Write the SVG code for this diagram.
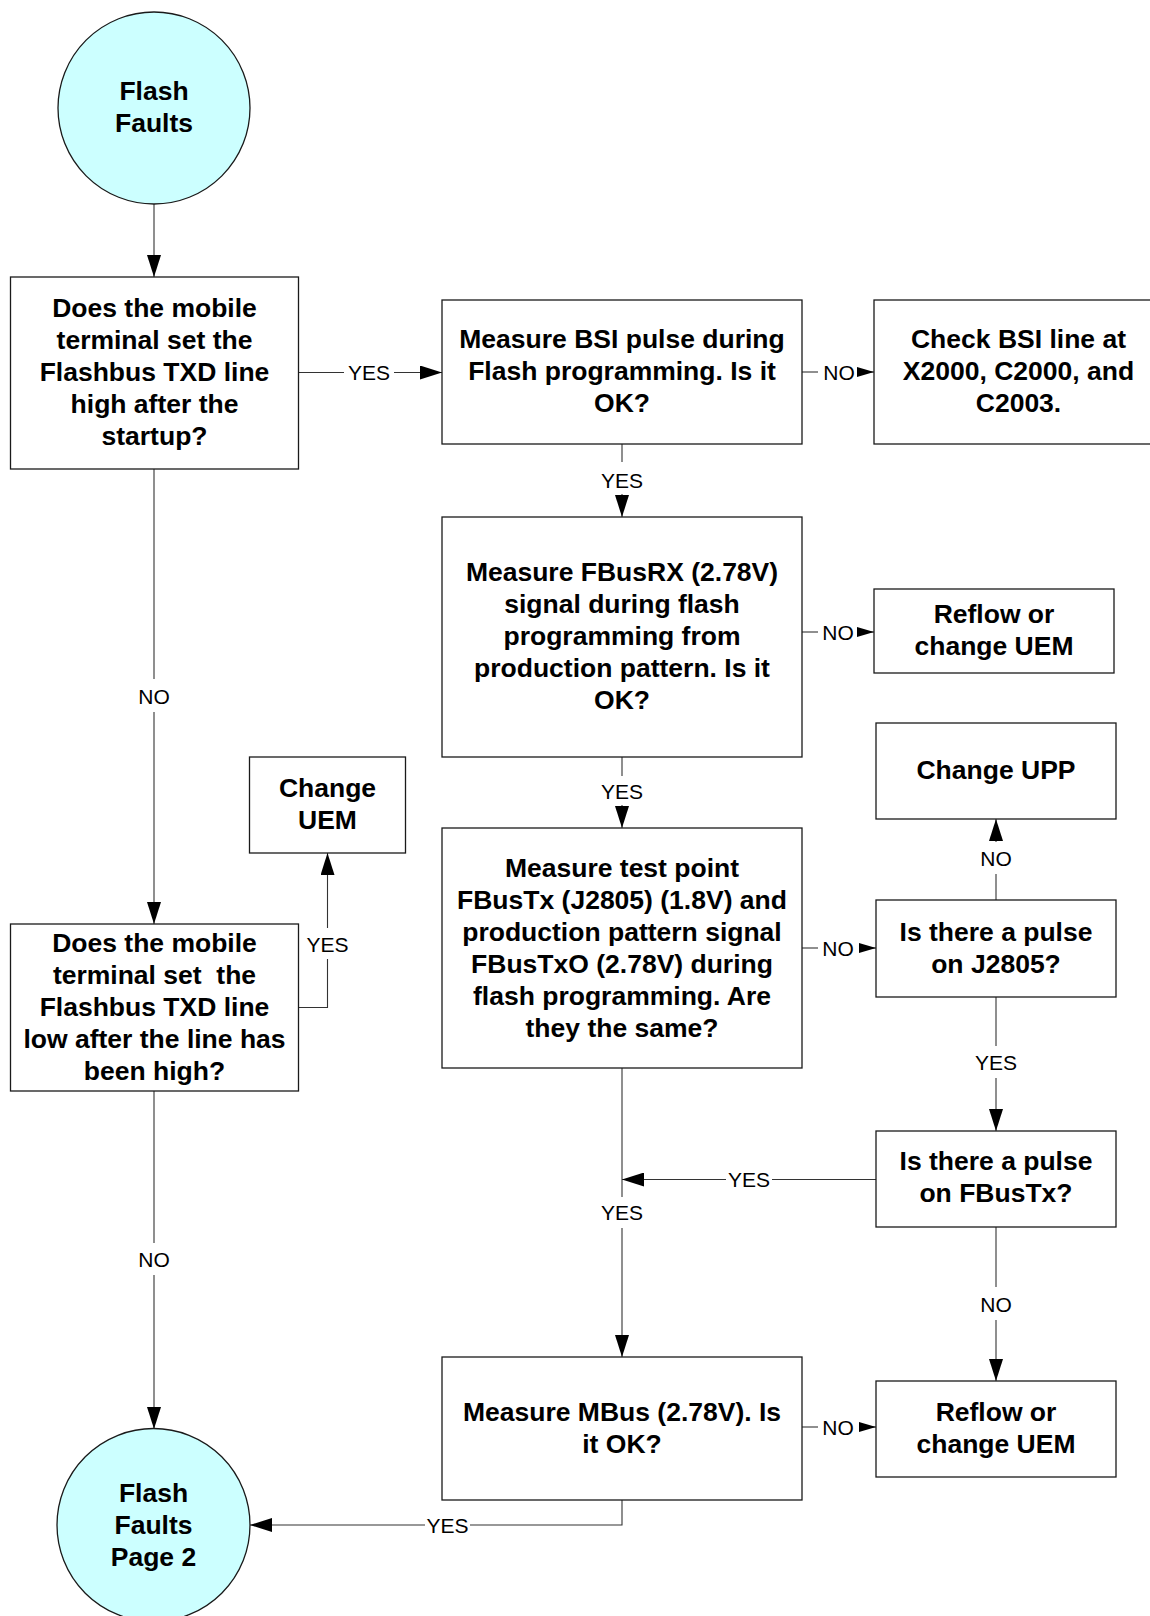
<svg xmlns="http://www.w3.org/2000/svg" width="1150" height="1616" viewBox="0 0 1150 1616">
  <style>
    .box { fill: #ffffff; stroke: #1a1a1a; stroke-width: 1.3; }
    .term { fill: #ccffff; stroke: #1a1a1a; stroke-width: 1.3; }
    .t { font-family: "Liberation Sans", Arial, sans-serif; font-weight: bold; font-size: 26.5px; fill: #000; text-anchor: middle; }
    .lbl { font-family: "Liberation Sans", Arial, sans-serif; font-size: 21px; fill: #000; text-anchor: middle; }
    .ln { fill: none; stroke: #333333; stroke-width: 1.1; }
    .ab { marker-end: url(#big); }
    .as { marker-end: url(#small); }
  </style>
  <defs>
    <marker id="big" viewBox="0 0 22 14" refX="22" refY="7" markerWidth="22" markerHeight="14" markerUnits="userSpaceOnUse" orient="auto">
      <path d="M0,0 L22,7 L0,14 Z" fill="#000"/>
    </marker>
    <marker id="small" viewBox="0 0 17 10" refX="17" refY="5" markerWidth="17" markerHeight="10" markerUnits="userSpaceOnUse" orient="auto">
      <path d="M0,0 L17,5 L0,10 Z" fill="#000"/>
    </marker>
  </defs>

  <rect width="1150" height="1616" fill="#ffffff"/>

  <!-- connectors -->
  <g id="connectors">
    <!-- start -> TXD high question -->
    <path class="ln ab" d="M154,204 V277"/>
    <!-- TXD high: YES -> BSI -->
    <path class="ln" d="M298,372.5 H344"/>
    <path class="ln ab" d="M394,372.5 H442"/>
    <text class="lbl" x="369" y="380">YES</text>
    <!-- BSI: NO -> check BSI line -->
    <path class="ln" d="M802,372 H818"/>
    <path class="ln as" d="M857,372 H874"/>
    <text class="lbl" x="839" y="379.5">NO</text>
    <!-- BSI: YES -> FBusRX -->
    <path class="ln" d="M622,444 V462"/>
    <path class="ln ab" d="M622,494 V517"/>
    <text class="lbl" x="622" y="487.5">YES</text>
    <!-- FBusRX: NO -> reflow UEM -->
    <path class="ln" d="M802,632 H818"/>
    <path class="ln as" d="M857,632 H874"/>
    <text class="lbl" x="838" y="639.5">NO</text>
    <!-- FBusRX: YES -> test point -->
    <path class="ln" d="M622,757 V776"/>
    <path class="ln ab" d="M622,805 V828"/>
    <text class="lbl" x="622" y="798.5">YES</text>
    <!-- test point: NO -> pulse on J2805 -->
    <path class="ln" d="M802,948 H818"/>
    <path class="ln as" d="M859,948 H876"/>
    <text class="lbl" x="838" y="955.5">NO</text>
    <!-- J2805: NO -> change UPP -->
    <path class="ln" d="M996,900 V874"/>
    <path class="ln ab" d="M996,842 V819"/>
    <text class="lbl" x="996" y="865.5">NO</text>
    <!-- J2805: YES -> pulse on FBusTx -->
    <path class="ln" d="M996,997 V1046"/>
    <path class="ln ab" d="M996,1078 V1131"/>
    <text class="lbl" x="996" y="1069.5">YES</text>
    <!-- FBusTx: YES -> join main line -->
    <path class="ln" d="M876,1179.5 H772"/>
    <path class="ln ab" d="M726,1179.5 H622"/>
    <text class="lbl" x="749" y="1187">YES</text>
    <!-- test point: YES -> MBus -->
    <path class="ln" d="M622,1068 V1197"/>
    <path class="ln ab" d="M622,1228 V1357"/>
    <text class="lbl" x="622" y="1220">YES</text>
    <!-- FBusTx: NO -> reflow UEM -->
    <path class="ln" d="M996,1227 V1287"/>
    <path class="ln ab" d="M996,1320 V1381"/>
    <text class="lbl" x="996" y="1311.5">NO</text>
    <!-- MBus: NO -> reflow UEM -->
    <path class="ln" d="M802,1427 H818"/>
    <path class="ln as" d="M859,1427 H876"/>
    <text class="lbl" x="838" y="1434.5">NO</text>
    <!-- MBus: YES -> page 2 -->
    <path class="ln" d="M622,1500 V1525 H470"/>
    <path class="ln ab" d="M425,1525 H250"/>
    <text class="lbl" x="447.5" y="1532.5">YES</text>
    <!-- TXD high: NO -> TXD low question -->
    <path class="ln" d="M154,469 V679"/>
    <path class="ln ab" d="M154,712 V924"/>
    <text class="lbl" x="154" y="703.5">NO</text>
    <!-- TXD low: YES -> change UEM -->
    <path class="ln" d="M298,1007.5 H327.5 V959"/>
    <path class="ln ab" d="M327.5,928 V853"/>
    <text class="lbl" x="327.5" y="951.5">YES</text>
    <!-- TXD low: NO -> page 2 -->
    <path class="ln" d="M154,1091 V1243"/>
    <path class="ln ab" d="M154,1275 V1429"/>
    <text class="lbl" x="154" y="1266.5">NO</text>
  </g>

  <!-- terminators -->
  <g id="start">
    <circle class="term" cx="154" cy="108" r="96"/>
    <text class="t" x="154" y="100">Flash</text>
    <text class="t" x="154" y="132">Faults</text>
  </g>
  <g id="page2">
    <circle class="term" cx="153.5" cy="1525" r="96.5"/>
    <text class="t" x="153.5" y="1502">Flash</text>
    <text class="t" x="153.5" y="1534">Faults</text>
    <text class="t" x="153.5" y="1566">Page 2</text>
  </g>

  <!-- process / decision boxes -->
  <g id="txd-high">
    <rect class="box" x="10.5" y="277" width="288" height="192"/>
    <text class="t" x="154.5" y="317">Does the mobile</text>
    <text class="t" x="154.5" y="349">terminal set the</text>
    <text class="t" x="154.5" y="381">Flashbus TXD line</text>
    <text class="t" x="154.5" y="413">high after the</text>
    <text class="t" x="154.5" y="445">startup?</text>
  </g>
  <g id="bsi">
    <rect class="box" x="442" y="300" width="360" height="144"/>
    <text class="t" x="622" y="348">Measure BSI pulse during</text>
    <text class="t" x="622" y="380">Flash programming. Is it</text>
    <text class="t" x="622" y="412">OK?</text>
  </g>
  <g id="check-bsi">
    <rect class="box" x="874" y="300" width="289" height="144"/>
    <text class="t" x="1018.5" y="348">Check BSI line at</text>
    <text class="t" x="1018.5" y="380">X2000, C2000, and</text>
    <text class="t" x="1018.5" y="412">C2003.</text>
  </g>
  <g id="fbusrx">
    <rect class="box" x="442" y="517" width="360" height="240"/>
    <text class="t" x="622" y="581">Measure FBusRX (2.78V)</text>
    <text class="t" x="622" y="613">signal during flash</text>
    <text class="t" x="622" y="645">programming from</text>
    <text class="t" x="622" y="677">production pattern. Is it</text>
    <text class="t" x="622" y="709">OK?</text>
  </g>
  <g id="reflow-1">
    <rect class="box" x="874" y="589" width="240" height="84"/>
    <text class="t" x="994" y="623">Reflow or</text>
    <text class="t" x="994" y="655">change UEM</text>
  </g>
  <g id="change-upp">
    <rect class="box" x="876" y="723" width="240" height="96"/>
    <text class="t" x="996" y="779">Change UPP</text>
  </g>
  <g id="change-uem">
    <rect class="box" x="249.5" y="757" width="156" height="96"/>
    <text class="t" x="327.5" y="797">Change</text>
    <text class="t" x="327.5" y="829">UEM</text>
  </g>
  <g id="test-point">
    <rect class="box" x="442" y="828" width="360" height="240"/>
    <text class="t" x="622" y="877">Measure test point</text>
    <text class="t" x="622" y="909">FBusTx (J2805) (1.8V) and</text>
    <text class="t" x="622" y="941">production pattern signal</text>
    <text class="t" x="622" y="973">FBusTxO (2.78V) during</text>
    <text class="t" x="622" y="1005">flash programming. Are</text>
    <text class="t" x="622" y="1037">they the same?</text>
  </g>
  <g id="pulse-j2805">
    <rect class="box" x="876" y="900" width="240" height="97"/>
    <text class="t" x="996" y="941">Is there a pulse</text>
    <text class="t" x="996" y="973">on J2805?</text>
  </g>
  <g id="txd-low">
    <rect class="box" x="10.5" y="924" width="288" height="167"/>
    <text class="t" x="154.5" y="952">Does the mobile</text>
    <text class="t" x="154.5" y="984">terminal set&#160; the</text>
    <text class="t" x="154.5" y="1016">Flashbus TXD line</text>
    <text class="t" x="154.5" y="1048">low after the line has</text>
    <text class="t" x="154.5" y="1080">been high?</text>
  </g>
  <g id="pulse-fbustx">
    <rect class="box" x="876" y="1131" width="240" height="96"/>
    <text class="t" x="996" y="1170">Is there a pulse</text>
    <text class="t" x="996" y="1202">on FBusTx?</text>
  </g>
  <g id="mbus">
    <rect class="box" x="442" y="1357" width="360" height="143"/>
    <text class="t" x="622" y="1421">Measure MBus (2.78V). Is</text>
    <text class="t" x="622" y="1453">it OK?</text>
  </g>
  <g id="reflow-2">
    <rect class="box" x="876" y="1381" width="240" height="96"/>
    <text class="t" x="996" y="1421">Reflow or</text>
    <text class="t" x="996" y="1453">change UEM</text>
  </g>
</svg>
